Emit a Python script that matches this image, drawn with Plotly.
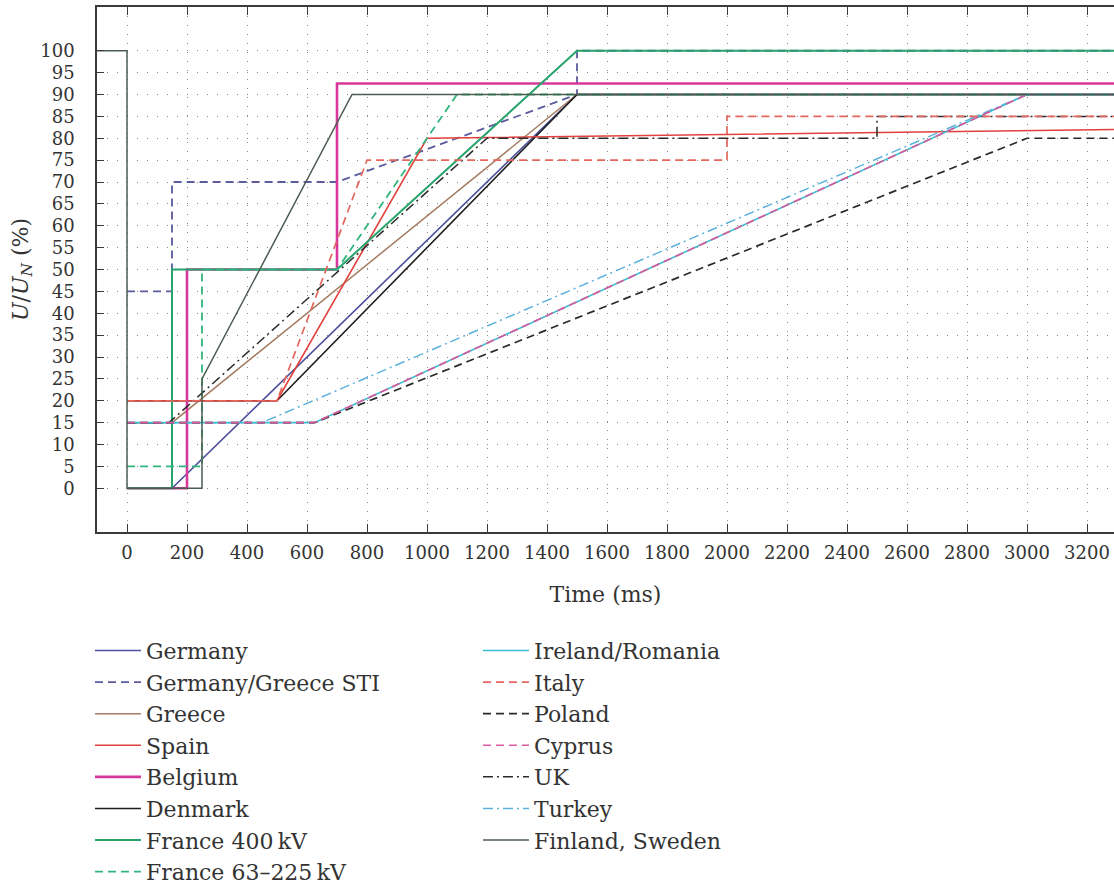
import plotly.graph_objects as go

# ---------------- data (time in ms, voltage in % of U_N) ----------------
x_tick_vals = list(range(0, 3201, 200))
y_tick_vals = list(range(0, 101, 5))

germany_t = [0, 150, 1500, 3300]
germany_u = [0, 0, 90, 90]

germany_greece_sti_t = [0, 150, 150, 700, 1500, 1500, 3300]
germany_greece_sti_u = [45, 45, 70, 70, 90, 100, 100]

greece_t = [0, 150, 1500, 3300]
greece_u = [15, 15, 90, 90]

spain_t = [0, 500, 1000, 3300]
spain_u = [20, 20, 80, 82]

belgium_t = [0, 200, 200, 700, 700, 3300]
belgium_u = [0, 0, 50, 50, 92.5, 92.5]

denmark_t = [0, 500, 1500, 3300]
denmark_u = [20, 20, 90, 90]

france400_t = [0, 150, 150, 700, 1500, 3300]
france400_u = [0, 0, 50, 50, 100, 100]

france63_t = [0, 250, 250, 700, 1100, 3300]
france63_u = [5, 5, 50, 50, 90, 90]

ireland_t = [0, 625, 3000, 3300]
ireland_u = [15, 15, 90, 90]

italy_t = [0, 500, 800, 2000, 2000, 3300]
italy_u = [20, 20, 75, 75, 85, 85]

poland_t = [0, 625, 3000, 3300]
poland_u = [15, 15, 80, 80]

cyprus_t = [0, 625, 3000, 3300]
cyprus_u = [15, 15, 90, 90]

uk_t = [0, 140, 1200, 2500, 2500, 3300]
uk_u = [15, 15, 80, 80, 85, 85]

turkey_t = [0, 450, 3000, 3300]
turkey_u = [15, 15, 90, 90]

finland_t = [-100, 0, 0, 250, 250, 750, 3300]
finland_u = [100, 100, 0, 0, 25, 90, 90]

# ---------------- styling ----------------
FONT = "DejaVu Serif"
TXT = "#333333"

# (name, t, u, color, width, dash, legend, rank) in drawing order
series = [
    ("Germany", germany_t, germany_u, "#4c4f9c", 1.6, "solid", "legend", 1),
    ("Germany/Greece STI", germany_greece_sti_t, germany_greece_sti_u, "#5b5b9e", 1.8, "8px,5px", "legend", 2),
    ("Greece", greece_t, greece_u, "#a57c62", 1.5, "solid", "legend", 3),
    ("Denmark", denmark_t, denmark_u, "#1e1e1e", 1.6, "solid", "legend", 6),
    ("Spain", spain_t, spain_u, "#e2403c", 1.6, "solid", "legend", 4),
    ("Belgium", belgium_t, belgium_u, "#d8379b", 2.6, "solid", "legend", 5),
    ("France 400\u2009kV", france400_t, france400_u, "#27a36b", 2.0, "solid", "legend", 7),
    ("France 63\u2013225\u2009kV", france63_t, france63_u, "#32b57c", 1.8, "8px,5px", "legend", 8),
    ("Turkey", turkey_t, turkey_u, "#5db2dc", 1.5, "10px,4px,2px,4px", "legend2", 14),
    ("UK", uk_t, uk_u, "#2a2a2a", 1.5, "10px,4px,2px,4px", "legend2", 13),
    ("Ireland/Romania", ireland_t, ireland_u, "#3cbcd2", 1.6, "solid", "legend2", 9),
    ("Italy", italy_t, italy_u, "#e4675e", 1.7, "8px,5px", "legend2", 10),
    ("Poland", poland_t, poland_u, "#2a2a2a", 1.7, "8px,5px", "legend2", 11),
    ("Cyprus", cyprus_t, cyprus_u, "#d85a9c", 1.7, "8px,5px", "legend2", 12),
    ("Finland, Sweden", finland_t, finland_u, "#4d5c52", 1.5, "solid", "legend2", 15),
]

fig = go.Figure()
for name, t, u, color, width, dash, leg, rank in series:
    fig.add_trace(go.Scatter(
        x=t, y=u, mode="lines", name=name,
        line=dict(color=color, width=width, dash=dash),
        legend=leg, legendrank=rank, cliponaxis=True,
    ))

axis_color = "#3a3a3a"
grid_color = "#8a8a8a"

legend_common = dict(
    xanchor="left", yanchor="top",
    font=dict(family=FONT, size=22, color=TXT),
    bgcolor="rgba(0,0,0,0)", itemwidth=46, tracegroupgap=0,
)

fig.update_layout(
    width=1114, height=890,
    margin=dict(l=97, r=0, t=7, b=358, autoexpand=False),
    paper_bgcolor="white", plot_bgcolor="white",
    font=dict(family=FONT, size=18, color=TXT),
    showlegend=True,
    legend=dict(x=-0.0069, y=-0.186, **legend_common),
    legend2=dict(x=0.3746, y=-0.186, **legend_common),
    xaxis=dict(
        range=[-100, 3290],
        tickvals=x_tick_vals,
        ticks="inside", ticklen=8, tickwidth=1.3, tickcolor=axis_color,
        showline=True, linecolor=axis_color, linewidth=1.6, mirror="ticks",
        showgrid=True, gridcolor=grid_color, gridwidth=1, griddash="1px,8px",
        zeroline=False,
        tickfont=dict(family=FONT, size=18, color=TXT),
        ticklabelstandoff=4,
        title=dict(text="Time (ms)", font=dict(family=FONT, size=22, color=TXT), standoff=24),
    ),
    yaxis=dict(
        range=[-10, 110],
        tickvals=y_tick_vals,
        ticks="inside", ticklen=7, tickwidth=1.3, tickcolor=axis_color,
        showline=True, linecolor=axis_color, linewidth=1.6, mirror=False,
        showgrid=True, gridcolor=grid_color, gridwidth=1, griddash="1px,9px",
        zeroline=False,
        tickfont=dict(family=FONT, size=18, color=TXT),
        ticklabelstandoff=17,
        title=dict(text="<i>U</i>/<i>U</i><sub><i>N</i></sub> (%)",
                   font=dict(family=FONT, size=22, color=TXT), standoff=6),
    ),
)

fig.write_html(
    "out.html",
    config={"displayModeBar": False},
    post_script="document.body.style.margin='0px';",
)
